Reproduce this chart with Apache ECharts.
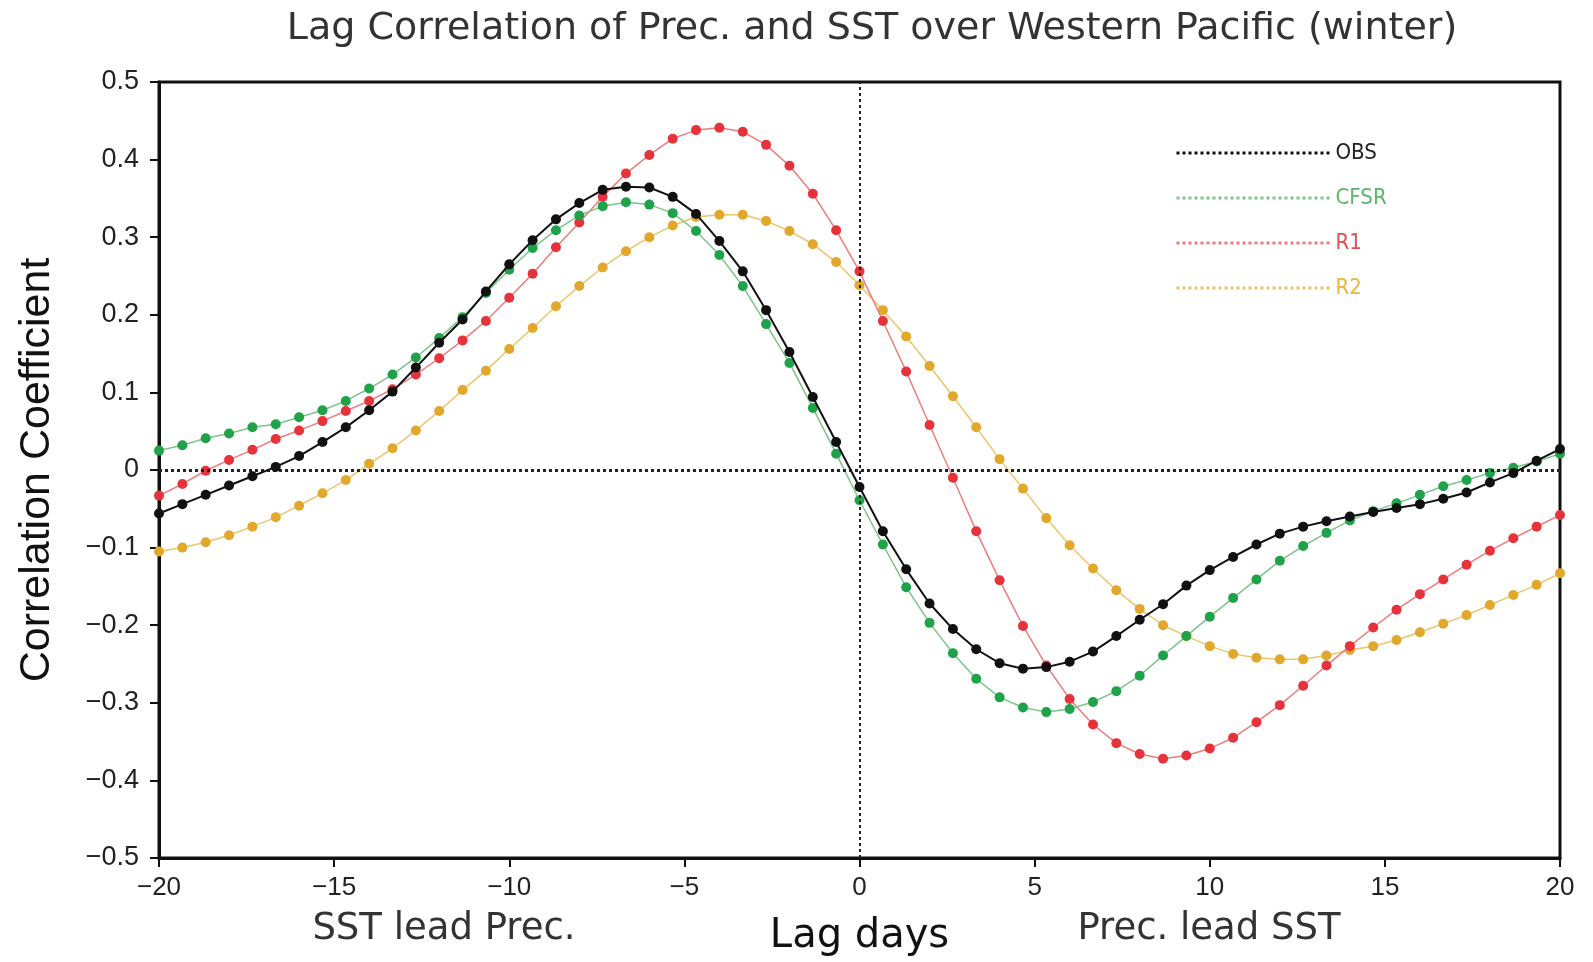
<!DOCTYPE html>
<html>
<head>
<meta charset="utf-8">
<script src="https://cdn.jsdelivr.net/npm/echarts@6/dist/echarts.min.js"></script>
<style>
  html, body { margin: 0; padding: 0; background: #ffffff; }
  #chart { width: 1593px; height: 962px; }
</style>
</head>
<body>
<div id="chart"></div>
<script>
// Lag days (x positions of the points, every 2/3 day)
var lagDays = [-20, -19.333, -18.667, -18, -17.333, -16.667, -16, -15.333, -14.667, -14,
  -13.333, -12.667, -12, -11.333, -10.667, -10, -9.333, -8.667, -8, -7.333,
  -6.667, -6, -5.333, -4.667, -4, -3.333, -2.667, -2, -1.333, -0.667,
  0, 0.667, 1.333, 2, 2.667, 3.333, 4, 4.667, 5.333, 6,
  6.667, 7.333, 8, 8.667, 9.333, 10, 10.667, 11.333, 12, 12.667,
  13.333, 14, 14.667, 15.333, 16, 16.667, 17.333, 18, 18.667, 19.333, 20];

var obs = [-0.056, -0.044, -0.032, -0.020, -0.008, 0.004, 0.018, 0.036, 0.055, 0.077,
  0.101, 0.132, 0.164, 0.194, 0.230, 0.265, 0.296, 0.323, 0.344, 0.361,
  0.365, 0.364, 0.352, 0.330, 0.295, 0.256, 0.206, 0.152, 0.094, 0.036,
  -0.022, -0.079, -0.128, -0.172, -0.205, -0.231, -0.249, -0.256, -0.254, -0.247,
  -0.234, -0.214, -0.193, -0.173, -0.149, -0.129, -0.112, -0.096, -0.082, -0.073,
  -0.066, -0.060, -0.054, -0.049, -0.044, -0.037, -0.029, -0.016, -0.004, 0.012, 0.027];

var cfsr = [0.025, 0.032, 0.041, 0.047, 0.055, 0.059, 0.068, 0.077, 0.089, 0.105,
  0.123, 0.145, 0.170, 0.197, 0.228, 0.258, 0.286, 0.309, 0.328, 0.340,
  0.345, 0.342, 0.331, 0.308, 0.277, 0.237, 0.188, 0.138, 0.080, 0.021,
  -0.039, -0.096, -0.151, -0.197, -0.236, -0.269, -0.293, -0.306, -0.312, -0.308,
  -0.299, -0.285, -0.265, -0.239, -0.214, -0.189, -0.165, -0.141, -0.117, -0.098,
  -0.081, -0.065, -0.053, -0.043, -0.032, -0.021, -0.013, -0.004, 0.003, 0.011, 0.021];

var r1 = [-0.033, -0.018, -0.001, 0.013, 0.026, 0.040, 0.051, 0.063, 0.076, 0.089,
  0.104, 0.123, 0.144, 0.167, 0.192, 0.222, 0.253, 0.287, 0.319, 0.352,
  0.382, 0.406, 0.427, 0.438, 0.441, 0.436, 0.419, 0.392, 0.356, 0.309,
  0.256, 0.192, 0.127, 0.058, -0.010, -0.079, -0.142, -0.201, -0.252, -0.295,
  -0.328, -0.352, -0.366, -0.372, -0.368, -0.359, -0.345, -0.325, -0.303, -0.278,
  -0.252, -0.227, -0.203, -0.180, -0.160, -0.141, -0.122, -0.104, -0.088, -0.073, -0.058];

var r2 = [-0.105, -0.100, -0.093, -0.084, -0.073, -0.061, -0.046, -0.030, -0.013, 0.008,
  0.028, 0.051, 0.076, 0.103, 0.128, 0.156, 0.183, 0.211, 0.237, 0.261,
  0.282, 0.300, 0.315, 0.326, 0.329, 0.329, 0.321, 0.308, 0.291, 0.268,
  0.238, 0.206, 0.172, 0.134, 0.095, 0.055, 0.014, -0.024, -0.062, -0.097,
  -0.127, -0.155, -0.179, -0.200, -0.214, -0.227, -0.237, -0.242, -0.244, -0.244,
  -0.239, -0.232, -0.227, -0.219, -0.209, -0.198, -0.187, -0.174, -0.161, -0.148, -0.133];

var seriesNames = ['OBS', 'CFSR', 'R1', 'R2'];
var xTicks = [-20, -15, -10, -5, 0, 5, 10, 15, 20];
var yTicks = [-0.5, -0.4, -0.3, -0.2, -0.1, 0, 0.1, 0.2, 0.3, 0.4, 0.5];

function pairs(vals) {
  return vals.map(function (v, i) { return [lagDays[i], v]; });
}
function minus(s) { return String(s).replace('-', '\u2212'); }

var chart = echarts.init(document.getElementById('chart'), null, { renderer: 'canvas' });

var serif = "'DejaVu Sans', 'Noto Sans', sans-serif";
var arial = "'Liberation Sans', Arial, sans-serif";
var narrow = "'DejaVu Sans Condensed', 'Liberation Sans Narrow', 'DejaVu Sans', sans-serif";

function lineSeries(name, vals, dotColor, lineColor, lineWidth, z) {
  return {
    name: name,
    type: 'line',
    data: pairs(vals),
    symbol: 'circle',
    symbolSize: 10,
    showSymbol: true,
    smooth: false,
    z: z,
    itemStyle: { color: dotColor },
    lineStyle: { color: lineColor, width: lineWidth },
    emphasis: { disabled: true },
    animation: false
  };
}

var sR2 = lineSeries('R2', r2, '#e2a82c', '#eec46c', 1.5, 2);
sR2.markLine = {
  silent: true,
  symbol: 'none',
  label: { show: false },
  animation: false,
  data: [
    { yAxis: 0, lineStyle: { type: [3, 3], color: '#222', width: 3 } },
    { xAxis: 0, lineStyle: { type: [3, 3], color: '#222', width: 2 } }
  ]
};

var option = {
  backgroundColor: '#ffffff',
  animation: false,
  grid: {
    left: 159, right: 33, top: 82, bottom: 100,
    show: true, borderColor: '#111', borderWidth: 3, backgroundColor: 'transparent'
  },
  xAxis: {
    type: 'value',
    min: xTicks[0], max: xTicks[xTicks.length - 1], interval: 5,
    axisLine: { show: true, onZero: false, lineStyle: { color: '#111', width: 3 } },
    axisTick: { show: true, inside: false, length: 9, lineStyle: { color: '#111', width: 2 } },
    splitLine: { show: false },
    axisLabel: {
      margin: 17, fontSize: 26, fontFamily: arial, color: '#222',
      formatter: function (v) { return minus(v); }
    },
    name: 'Lag days',
    nameLocation: 'middle',
    nameGap: 59,
    nameTextStyle: { fontSize: 40, fontFamily: serif, color: '#111' }
  },
  yAxis: {
    type: 'value',
    min: yTicks[0], max: yTicks[yTicks.length - 1], interval: 0.1,
    axisLine: { show: true, onZero: false, lineStyle: { color: '#111', width: 3 } },
    axisTick: { show: true, inside: false, length: 9, lineStyle: { color: '#111', width: 2 } },
    splitLine: { show: false },
    axisLabel: {
      margin: 20, fontSize: 27, fontFamily: arial, color: '#222',
      formatter: function (v) {
        var r = Math.round(v * 10) / 10;
        return r === 0 ? '0' : minus(r.toFixed(1));
      }
    },
    name: 'Correlation Coefficient',
    nameLocation: 'middle',
    nameGap: 100,
    nameTextStyle: { fontSize: 43, fontFamily: arial, color: '#111' }
  },
  legend: {
    orient: 'vertical',
    left: 1170, top: 137,
    itemWidth: 154, itemHeight: 14, itemGap: 23,
    selectedMode: false,
    lineStyle: { type: [3, 3], width: 3 },
    itemStyle: { opacity: 0 },
    textStyle: { fontSize: 22, fontFamily: narrow },
    data: [
      { name: 'OBS', textStyle: { color: '#222' } },
      { name: 'CFSR', textStyle: { color: '#5cb56c' } },
      { name: 'R1', textStyle: { color: '#e05050' } },
      { name: 'R2', textStyle: { color: '#e8b442' } }
    ]
  },
  graphic: [
    { type: 'text', x: 872, y: 29, silent: true,
      style: { text: 'Lag Correlation of Prec. and SST over Western Pacific (winter)',
        font: '38px ' + serif, fill: '#333', align: 'center', verticalAlign: 'middle' } },
    { type: 'text', x: 444, y: 929, silent: true,
      style: { text: 'SST lead Prec.', font: '37px ' + serif, fill: '#333',
        align: 'center', verticalAlign: 'middle' } },
    { type: 'text', x: 1209, y: 929, silent: true,
      style: { text: 'Prec. lead SST', font: '37px ' + serif, fill: '#333',
        align: 'center', verticalAlign: 'middle' } }
  ],
  series: [
    sR2,
    lineSeries('R1', r1, '#e6323a', '#ef7b7b', 1.5, 3),
    lineSeries('CFSR', cfsr, '#1fa24a', '#7cc48a', 1.5, 4),
    lineSeries('OBS', obs, '#111111', '#111111', 2, 5)
  ]
};

chart.setOption(option);
</script>
</body>
</html>
